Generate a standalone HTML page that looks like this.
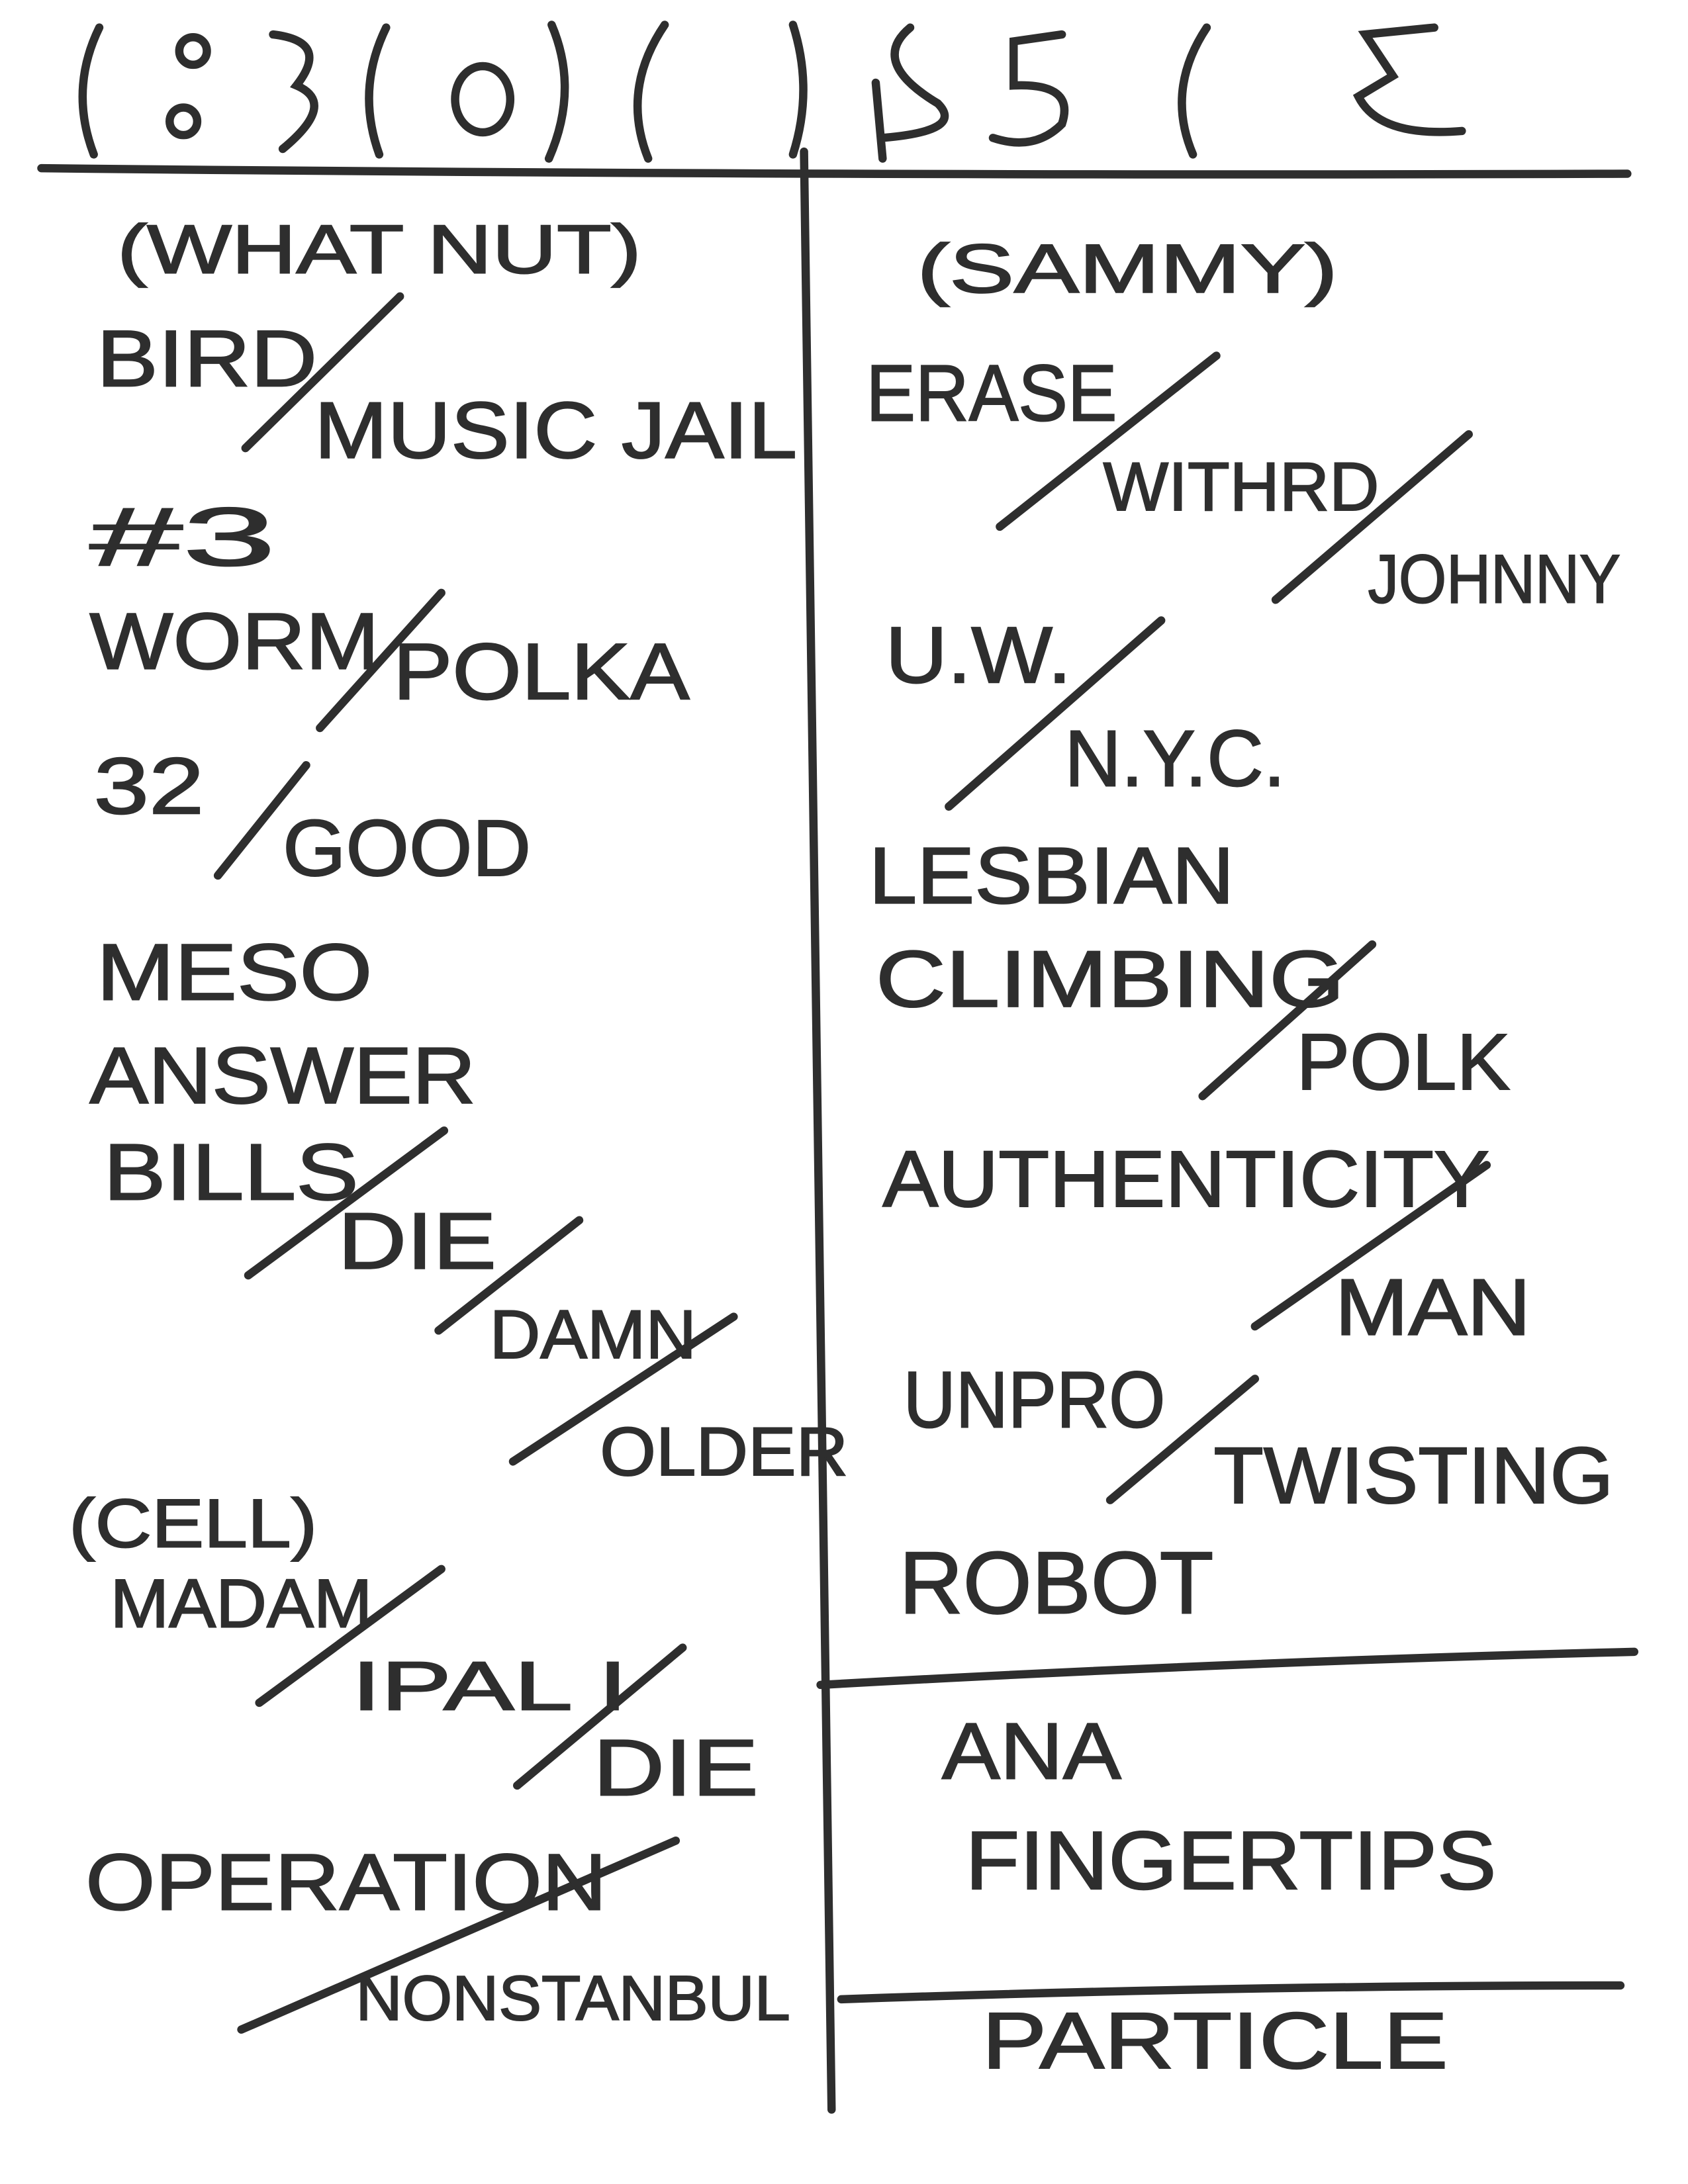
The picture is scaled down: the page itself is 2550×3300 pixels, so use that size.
<!DOCTYPE html>
<html><head><meta charset="utf-8"><style>
html,body{margin:0;padding:0;background:#fff;}
svg{display:block}
text{font-family:"Liberation Sans",sans-serif;fill:#2e2e2e;stroke:#2e2e2e;stroke-width:1;}
</style></head><body>
<svg width="2550" height="3300" viewBox="0 0 1224 1584" xmlns="http://www.w3.org/2000/svg">
<rect width="1224" height="1584" fill="#fff"/>
<g stroke="#2e2e2e" stroke-width="6" fill="none" stroke-linecap="round">
<path d="M30 122 Q600 128 1180 126"/>
<path d="M583 110 Q592 800 603 1530"/>
<path d="M595 1222 Q900 1205 1185 1198"/>
<path d="M610 1450 Q900 1440 1175 1440"/>
<path d="M72 20 Q50 65 68 112"/>
<circle cx="140" cy="37" r="10"/><circle cx="133" cy="88" r="10"/>
<path d="M198 25 Q240 30 215 62 Q245 75 205 108"/>
<path d="M280 20 Q258 65 275 112"/>
<ellipse cx="350" cy="72" rx="20" ry="24"/>
<path d="M400 18 Q420 65 398 115"/>
<path d="M482 18 Q450 65 470 115"/>
<path d="M575 18 Q590 65 575 112"/>
<path d="M660 20 Q630 45 680 75 Q700 95 640 100 M635 60 L640 115"/>
<path d="M770 25 L735 30 L735 62 Q780 60 770 90 Q750 110 720 100"/>
<path d="M875 20 Q845 65 865 112"/>
<path d="M1040 20 L990 25 L1010 55 L985 70 Q1000 100 1060 95"/>
<path d="M178 325 L290 215"/>
<path d="M232 528 L320 430"/>
<path d="M158 635 L222 555"/>
<path d="M180 925 L322 820"/>
<path d="M318 965 L420 885"/>
<path d="M372 1060 L532 955"/>
<path d="M188 1235 L320 1138"/>
<path d="M375 1295 L495 1195"/>
<path d="M175 1472 L490 1335"/>
<path d="M725 382 L882 258"/>
<path d="M925 435 L1065 315"/>
<path d="M688 585 L842 450"/>
<path d="M872 795 L995 685"/>
<path d="M910 962 L1078 845"/>
<path d="M805 1088 L910 1000"/>
</g>
<g font-size="58">
<text lengthAdjust="spacingAndGlyphs" x="85" y="198" font-size="50" textLength="380">(WHAT NUT)</text>
<text lengthAdjust="spacingAndGlyphs" x="70" y="280" textLength="160">BIRD</text>
<text lengthAdjust="spacingAndGlyphs" x="228" y="332" textLength="350">MUSIC JAIL</text>
<text lengthAdjust="spacingAndGlyphs" x="65" y="410" font-size="60" textLength="135">#3</text>
<text lengthAdjust="spacingAndGlyphs" x="65" y="485" textLength="210">WORM</text>
<text lengthAdjust="spacingAndGlyphs" x="285" y="507" textLength="215">POLKA</text>
<text lengthAdjust="spacingAndGlyphs" x="68" y="590" textLength="80">32</text>
<text lengthAdjust="spacingAndGlyphs" x="205" y="635" textLength="180">GOOD</text>
<text lengthAdjust="spacingAndGlyphs" x="70" y="725" textLength="200">MESO</text>
<text lengthAdjust="spacingAndGlyphs" x="65" y="800" textLength="280">ANSWER</text>
<text lengthAdjust="spacingAndGlyphs" x="75" y="870" textLength="185">BILLS</text>
<text lengthAdjust="spacingAndGlyphs" x="245" y="920" textLength="115">DIE</text>
<text lengthAdjust="spacingAndGlyphs" x="355" y="985" font-size="50" textLength="150">DAMN</text>
<text lengthAdjust="spacingAndGlyphs" x="435" y="1070" font-size="50" textLength="180">OLDER</text>
<text lengthAdjust="spacingAndGlyphs" x="50" y="1122" font-size="50" textLength="180">(CELL)</text>
<text lengthAdjust="spacingAndGlyphs" x="80" y="1180" font-size="50" textLength="190">MADAM</text>
<text lengthAdjust="spacingAndGlyphs" x="255" y="1240" font-size="50" textLength="200">IPAL I</text>
<text lengthAdjust="spacingAndGlyphs" x="430" y="1302" textLength="120">DIE</text>
<text lengthAdjust="spacingAndGlyphs" x="62" y="1385" textLength="378">OPERATION</text>
<text lengthAdjust="spacingAndGlyphs" x="258" y="1465" font-size="46" textLength="315">NONSTANBUL</text>
<text lengthAdjust="spacingAndGlyphs" x="665" y="212" font-size="50" textLength="305">(SAMMY)</text>
<text lengthAdjust="spacingAndGlyphs" x="628" y="305" textLength="182">ERASE</text>
<text lengthAdjust="spacingAndGlyphs" x="800" y="370" font-size="50" textLength="200">WITHRD</text>
<text lengthAdjust="spacingAndGlyphs" x="992" y="437" font-size="50" textLength="183">JOHNNY</text>
<text lengthAdjust="spacingAndGlyphs" x="642" y="495" textLength="135">U.W.</text>
<text lengthAdjust="spacingAndGlyphs" x="772" y="570" textLength="160">N.Y.C.</text>
<text lengthAdjust="spacingAndGlyphs" x="630" y="655" textLength="265">LESBIAN</text>
<text lengthAdjust="spacingAndGlyphs" x="635" y="730" textLength="340">CLIMBING</text>
<text lengthAdjust="spacingAndGlyphs" x="940" y="790" textLength="155">POLK</text>
<text lengthAdjust="spacingAndGlyphs" x="640" y="875" textLength="440">AUTHENTICITY</text>
<text lengthAdjust="spacingAndGlyphs" x="968" y="968" textLength="142">MAN</text>
<text lengthAdjust="spacingAndGlyphs" x="655" y="1035" textLength="190">UNPRO</text>
<text lengthAdjust="spacingAndGlyphs" x="880" y="1090" textLength="290">TWISTING</text>
<text lengthAdjust="spacingAndGlyphs" x="652" y="1170" font-size="64" textLength="228">ROBOT</text>
<text lengthAdjust="spacingAndGlyphs" x="683" y="1290" textLength="130">ANA</text>
<text lengthAdjust="spacingAndGlyphs" x="700" y="1370" font-size="60" textLength="385">FINGERTIPS</text>
<text lengthAdjust="spacingAndGlyphs" x="712" y="1500" textLength="338">PARTICLE</text>
</g>
</svg>
</body></html>
